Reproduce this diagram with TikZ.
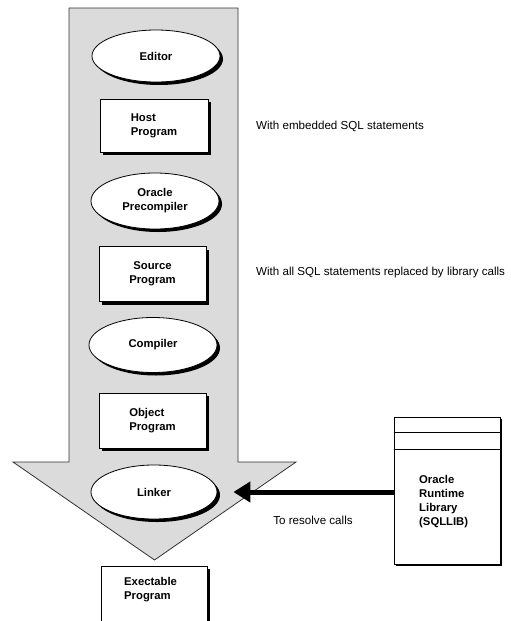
\documentclass[tikz,border=0pt]{standalone}
\usepackage{fontspec}
\setmainfont{Liberation Sans}
\usetikzlibrary{shapes.geometric,shadows,arrows.meta,calc}
\newcommand\lblfont{\bfseries\fontsize{11.3}{14}\selectfont}
\newcommand\notefont{\fontsize{11.6}{14}\selectfont}
\begin{document}
\begin{tikzpicture}[x=1pt,y=-1pt,
  shad/.style={drop shadow={shadow xshift=3pt,shadow yshift=-3pt,fill=black,opacity=1}},
  ell/.style={ellipse,draw=black,line width=0.8pt,fill=white,inner sep=0pt,
    minimum width=128pt,minimum height=52pt,shad,font=\lblfont,align=center},
  box/.style={rectangle,draw=black,line width=0.8pt,fill=white,inner sep=0pt,
    minimum width=107pt,minimum height=55pt,shad,font=\lblfont,align=left},
  note/.style={font=\notefont,inner sep=0pt},
  bigarrow/.style={draw=black!80,line width=0.8pt,fill=black!14},
  callarrow/.style={line width=5pt,-{Triangle[length=17pt,width=20pt]}}]
\clip (0,0) rectangle (511,621);
\fill[white] (0,0) rectangle (511,621);
% big flow arrow
\draw[bigarrow] (69,8) -- (238,8) -- (238,462) -- (296,462) -- (154.5,560)
  -- (13,462) -- (69,462) -- cycle;
% steps
\node[ell] (editor) at (156,56) {Editor};
\node[box,minimum width=108pt,minimum height=53pt] (host) at (154,125.5) {Host\\Program};
\node[ell,minimum height=56pt] (precomp) at (155,201) {Oracle\\Precompiler};
\node[box,align=center] (source) at (152.5,274) {Source\\Program};
\node[ell,minimum height=55pt] (compiler) at (153,345) {Compiler};
\node[box] (object) at (152.5,420.5) {Object\\Program};
\node[ell,minimum width=126pt,minimum height=54pt] (linker) at (154,492) {Linker};
\node[box,minimum width=106pt,minimum height=100pt] (exe) at (154,616) {};
\node[font=\lblfont,align=left,anchor=north west,inner sep=0pt] (exetext) at (124,577) {Exectable\\Program};
% runtime library
\node[rectangle,draw=black,line width=0.8pt,fill=white,minimum width=106pt,
  minimum height=147pt,drop shadow={shadow xshift=2pt,shadow yshift=-2pt,fill=black,opacity=1},
  inner sep=0pt] (lib) at (447,490.5) {};
\draw[line width=0.8pt] ($(lib.north west)+(0,16)$) -- ($(lib.north east)+(0,16)$);
\draw[line width=0.8pt] ($(lib.north west)+(0,33)$) -- ($(lib.north east)+(0,33)$);
\node[font=\lblfont,align=left,anchor=west,inner sep=0pt] (libtext) at (419,502)
  {Oracle\\Runtime\\Library\\(SQLLIB)};
\draw[callarrow,shorten >=16pt] (lib.west |- linker.east) -- (linker.east);
% notes
\node[note,anchor=west] (n1) at (256,126) {With embedded SQL statements};
\node[note,anchor=west] (n2) at (256,272) {With all SQL statements replaced by library calls};
\node[note] (n3) at (313,520) {To resolve calls};
\end{tikzpicture}
\end{document}
